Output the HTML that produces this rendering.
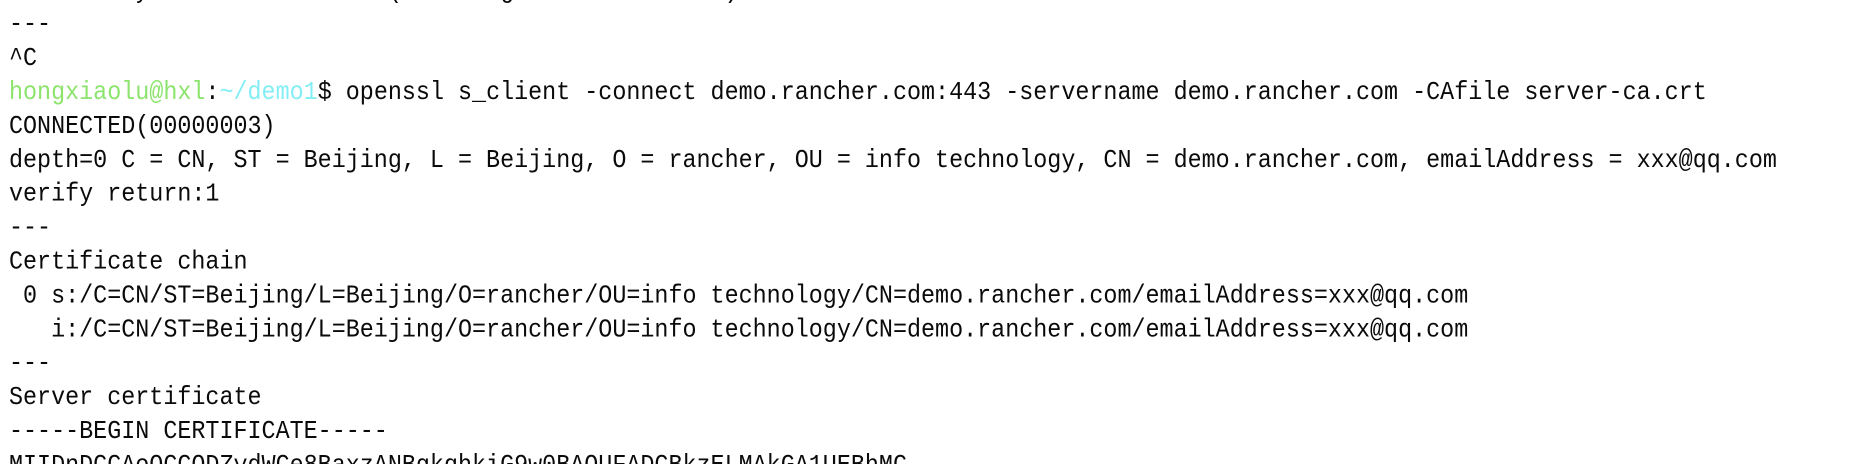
<!DOCTYPE html>
<html><head><meta charset="utf-8"><style>
html,body{margin:0;padding:0;background:#fff;width:1872px;height:464px;overflow:hidden}
svg{display:block}
text{font-family:"Liberation Mono",monospace;font-size:23.4px;fill:#0a0a0a;white-space:pre}
</style></head><body>
<svg width="1872" height="464" xmlns="http://www.w3.org/2000/svg">
<g transform="translate(0,-3) scale(1,1.1)">
<text x="9" y="0.27" xml:space="preserve">    Verify return code: 18 (self signed certificate)</text>
<text x="9" y="31.1" xml:space="preserve">---</text>
<text x="9" y="61.9" xml:space="preserve">^C</text>
<text x="9" y="92.7" xml:space="preserve"><tspan style="fill:#8ce46c">hongxiaolu@hxl</tspan>:<tspan style="fill:#84eef5">~/demo1</tspan>$ openssl s_client -connect demo.rancher.com:443 -servername demo.rancher.com -CAfile server-ca.crt</text>
<text x="9" y="123.5" xml:space="preserve">CONNECTED(00000003)</text>
<text x="9" y="154.4" xml:space="preserve">depth=0 C = CN, ST = Beijing, L = Beijing, O = rancher, OU = info technology, CN = demo.rancher.com, emailAddress = xxx@qq.com</text>
<text x="9" y="185.2" xml:space="preserve">verify return:1</text>
<text x="9" y="216" xml:space="preserve">---</text>
<text x="9" y="246.8" xml:space="preserve">Certificate chain</text>
<text x="9" y="277.6" xml:space="preserve"> 0 s:/C=CN/ST=Beijing/L=Beijing/O=rancher/OU=info technology/CN=demo.rancher.com/emailAddress=xxx@qq.com</text>
<text x="9" y="308.5" xml:space="preserve">   i:/C=CN/ST=Beijing/L=Beijing/O=rancher/OU=info technology/CN=demo.rancher.com/emailAddress=xxx@qq.com</text>
<text x="9" y="339.3" xml:space="preserve">---</text>
<text x="9" y="370.1" xml:space="preserve">Server certificate</text>
<text x="9" y="400.9" xml:space="preserve">-----BEGIN CERTIFICATE-----</text>
<text x="9" y="431.8" xml:space="preserve">MIIDnDCCAoQCCQDZydWCe8BaxzANBgkqhkiG9w0BAQUFADCBkzELMAkGA1UEBhMC</text>
</g>
</svg>
</body></html>
